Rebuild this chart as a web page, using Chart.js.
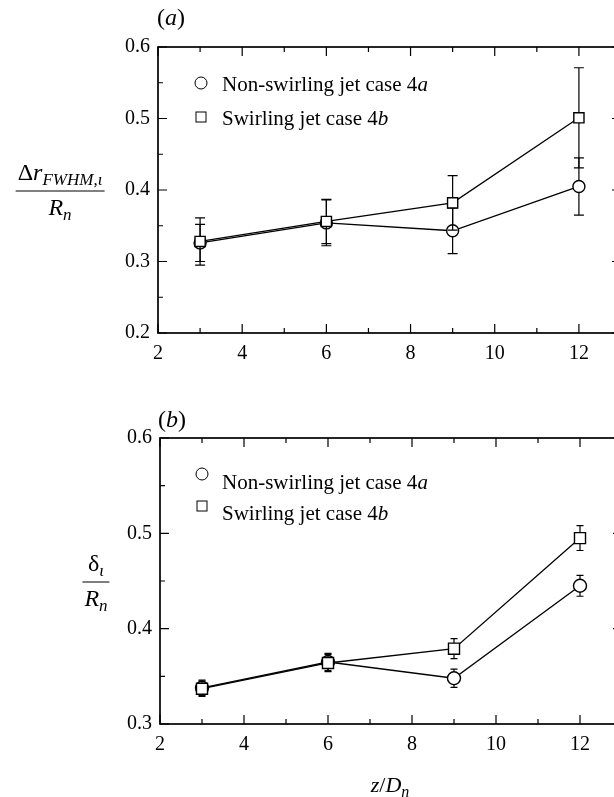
<!DOCTYPE html>
<html>
<head>
<meta charset="utf-8">
<script src="https://cdn.jsdelivr.net/npm/chart.js@4.4.1/dist/chart.umd.min.js"></script>
<style>
  html, body { margin:0; padding:0; width:614px; height:797px; overflow:hidden; background:#fff; }
  body { position:relative; font-family:'Liberation Serif', 'Times New Roman', serif; color:#000; }
  .cv { position:absolute; left:0; }
  .txt { position:absolute; white-space:nowrap; font-size:20px; line-height:1; }
  .frac { position:absolute; display:inline-flex; flex-direction:column; align-items:center; font-size:24px; line-height:1; transform:translate(-50%,-50%); }
  .frac .num { padding:0 2px 3px 2px; }
  .frac .den { border-top:1.4px solid #000; padding:3px 2px 0 2px; align-self:stretch; text-align:center; }
  .frac sub { font-size:17px; vertical-align:-5px; }
  .leg { position:absolute; font-size:21px; line-height:1; white-space:nowrap; transform:translateY(-50%); }
  .mk { position:absolute; box-sizing:border-box; border:1.5px solid #000; background:#fff; transform:translate(-50%,-50%); }
</style>
</head>
<body>
<canvas id="cA" class="cv" width="640" height="380" style="top:0px;width:640px;height:380px"></canvas>
<canvas id="cB" class="cv" width="640" height="407" style="top:390px;width:640px;height:407px"></canvas>

<div class="txt" style="left:157px;top:5px;font-size:24px">(<i>a</i>)</div>
<div class="txt" style="left:158px;top:407px;font-size:24px">(<i>b</i>)</div>

<div class="frac" style="left:60px;top:191px"><span class="num">Δ<i>r</i><sub><i>FWHM</i>,<i>ι</i></sub></span><span class="den"><i>R</i><sub><i>n</i></sub></span></div>
<div class="frac" style="left:96px;top:582px"><span class="num">δ<sub><i>ι</i></sub></span><span class="den"><i>R</i><sub><i>n</i></sub></span></div>

<div class="txt" style="left:390px;top:774px;transform:translateX(-50%);font-size:22px"><i>z</i>/<i>D</i><sub style="font-size:16px;vertical-align:-5px"><i>n</i></sub></div>

<!-- legends -->
<div class="mk" style="left:201px;top:83px;width:13px;height:13px;border-radius:50%"></div>
<div class="leg" style="left:222px;top:84px">Non-swirling jet case 4<i>a</i></div>
<div class="mk" style="left:201px;top:117px;width:11px;height:11px"></div>
<div class="leg" style="left:222px;top:118px">Swirling jet case 4<i>b</i></div>

<div class="mk" style="left:202px;top:474px;width:13px;height:13px;border-radius:50%"></div>
<div class="leg" style="left:222px;top:482px">Non-swirling jet case 4<i>a</i></div>
<div class="mk" style="left:202px;top:506px;width:11px;height:11px"></div>
<div class="leg" style="left:222px;top:513px">Swirling jet case 4<i>b</i></div>

<script>
// ---------------- data ----------------
const zD = [3, 6, 9, 12];

// panel (a): Δr_FWHM,ι / R_n
const aNonSwirl    = [0.326, 0.354, 0.343, 0.405];
const aNonSwirlErr = [0.026, 0.032, 0.032, 0.040];
const aSwirl       = [0.328, 0.356, 0.382, 0.501];
const aSwirlErr    = [0.033, 0.031, 0.038, 0.070];

// panel (b): δ_ι / R_n
const bNonSwirl    = [0.338, 0.365, 0.348, 0.445];
const bNonSwirlErr = [0.008, 0.009, 0.0095, 0.011];
const bSwirl       = [0.337, 0.364, 0.379, 0.495];
const bSwirlErr    = [0.008, 0.009, 0.0105, 0.013];

const xTickLabels  = [2, 4, 6, 8, 10, 12];
const yTickLabelsA = [0.2, 0.3, 0.4, 0.5, 0.6];
const yTickLabelsB = [0.3, 0.4, 0.5, 0.6];

// ---------------- plugins ----------------
const errorBars = {
  id: 'errorBars',
  beforeDatasetDraw(chart, args) {
    const ds = chart.data.datasets[args.index];
    if (!ds.errors) return;
    const {ctx, scales: {x, y}} = chart;
    const cap = chart.options.plugins.errorBars.cap;
    ctx.save();
    ctx.strokeStyle = '#000';
    ctx.lineWidth = 1.2;
    ds.data.forEach((p, i) => {
      const e = ds.errors[i];
      const px = x.getPixelForValue(p.x);
      const y1 = y.getPixelForValue(p.y - e);
      const y2 = y.getPixelForValue(p.y + e);
      ctx.beginPath();
      ctx.moveTo(px, y1); ctx.lineTo(px, y2);
      ctx.moveTo(px - cap, y1); ctx.lineTo(px + cap, y1);
      ctx.moveTo(px - cap, y2); ctx.lineTo(px + cap, y2);
      ctx.stroke();
    });
    ctx.restore();
  }
};

const frameTicks = {
  id: 'frameTicks',
  afterDraw(chart) {
    const {ctx, chartArea: a, scales: {x, y}} = chart;
    ctx.save();
    ctx.strokeStyle = '#000';
    ctx.lineWidth = 1.7;
    ctx.strokeRect(a.left, a.top, a.right - a.left, a.bottom - a.top);
    ctx.lineWidth = 1.2;
    const xs = chart.options.plugins.frameTicks.xTicks;
    const ys = chart.options.plugins.frameTicks.yTicks;
    const major = 9, minor = 5;
    const xAll = [];
    for (let i = 0; i < xs.length; i++) {
      xAll.push([xs[i], major]);
      xAll.push([xs[i] + (xs[1] - xs[0]) / 2, minor]);
    }
    xAll.forEach(([v, len]) => {
      const px = x.getPixelForValue(v);
      ctx.beginPath();
      ctx.moveTo(px, a.bottom); ctx.lineTo(px, a.bottom - len);
      ctx.moveTo(px, a.top); ctx.lineTo(px, a.top + len);
      ctx.stroke();
    });
    const yAll = [];
    for (let i = 0; i < ys.length; i++) {
      yAll.push([ys[i], major]);
      if (i < ys.length - 1) yAll.push([(ys[i] + ys[i + 1]) / 2, minor]);
    }
    yAll.forEach(([v, len]) => {
      const py = y.getPixelForValue(v);
      ctx.beginPath();
      ctx.moveTo(a.left, py); ctx.lineTo(a.left + len, py);
      ctx.moveTo(a.right, py); ctx.lineTo(a.right - len, py);
      ctx.stroke();
    });
    ctx.restore();
  }
};

function pts(xs, ys) { return xs.map((v, i) => ({x: v, y: ys[i]})); }

function makeChart(id, s1, e1, s2, e2, yTicks, pad, yWidth, circR, sqR, cap) {
  const font = {family: "'Liberation Serif', serif", size: 20};
  return new Chart(document.getElementById(id), {
    type: 'line',
    data: {
      datasets: [
        {
          label: 'Non-swirling jet case 4a', data: pts(zD, s1), errors: e1,
          borderColor: '#000', borderWidth: 1.3, pointStyle: 'circle', pointRadius: circR,
          pointBackgroundColor: '#fff', pointBorderColor: '#000', pointBorderWidth: 1.4, order: 1, tension: 0
        },
        {
          label: 'Swirling jet case 4b', data: pts(zD, s2), errors: e2,
          borderColor: '#000', borderWidth: 1.3, pointStyle: 'rect', pointRadius: sqR,
          pointBackgroundColor: '#fff', pointBorderColor: '#000', pointBorderWidth: 1.4, order: 0, tension: 0
        }
      ]
    },
    options: {
      responsive: false, animation: false, devicePixelRatio: 1,
      layout: {padding: pad},
      plugins: {
        legend: {display: false}, tooltip: {enabled: false},
        errorBars: {cap: cap},
        frameTicks: {xTicks: xTickLabels, yTicks: yTicks}
      },
      scales: {
        x: {
          type: 'linear', min: 2, max: 13,
          grid: {display: false, drawTicks: false}, border: {display: false},
          ticks: {
            stepSize: 2, includeBounds: false, padding: 9, color: '#000', font: font, maxRotation: 0,
            callback: v => xTickLabels.includes(v) ? String(v) : ''
          },
          afterFit: s => { s.height = 40; }
        },
        y: {
          type: 'linear', min: yTicks[0], max: yTicks[yTicks.length - 1],
          grid: {display: false, drawTicks: false}, border: {display: false},
          ticks: {stepSize: 0.1, padding: 8, color: '#000', font: font, callback: v => Number(v).toFixed(1)},
          afterFit: s => { s.width = yWidth; }
        }
      }
    },
    plugins: [errorBars, frameTicks]
  });
}

makeChart('cA', aNonSwirl, aNonSwirlErr, aSwirl, aSwirlErr, yTickLabelsA,
  {left: 0, top: 47, right: 19, bottom: 7}, 158, 6, 7.2, 5);
makeChart('cB', bNonSwirl, bNonSwirlErr, bSwirl, bSwirlErr, yTickLabelsB,
  {left: 0, top: 48, right: 18, bottom: 33}, 160, 6.5, 7.8, 3.5);
</script>
</body>
</html>
